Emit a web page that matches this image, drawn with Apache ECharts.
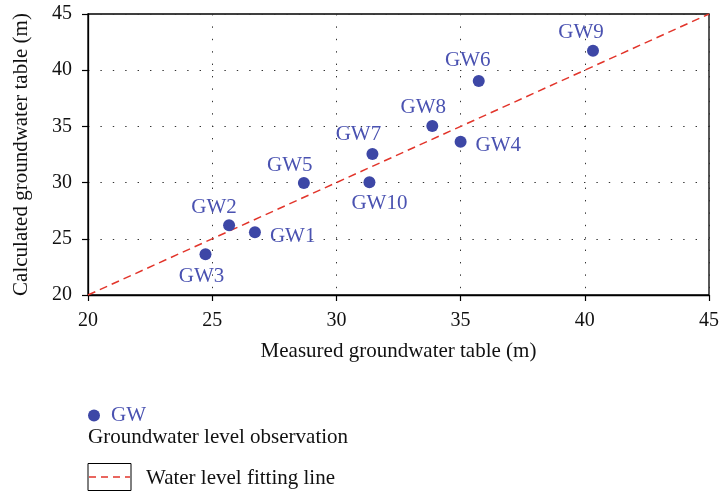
<!DOCTYPE html>
<html>
<head>
<meta charset="utf-8">
<script src="https://cdn.jsdelivr.net/npm/echarts@6/dist/echarts.min.js"></script>
<style>
  html, body { margin: 0; padding: 0; background: #fff; }
  #chart { width: 722px; height: 492px; }
</style>
</head>
<body>
<div id="chart"></div>
<script>
// Observation wells: measured vs. calculated groundwater table (m)
const wellNames = ['GW1', 'GW2', 'GW3', 'GW4', 'GW5', 'GW6', 'GW7', 'GW8', 'GW9', 'GW10'];
const measured = [26.72, 25.68, 24.73, 35.0, 28.69, 35.73, 31.45, 33.86, 40.33, 31.33];
const calculated = [25.58, 26.2, 23.62, 33.64, 29.96, 39.04, 32.54, 35.04, 41.73, 30.03];

// 1:1 fitting line end points
const fitX = [20, 45];
const fitY = [20, 45];

const axisTicks = [20, 25, 30, 35, 40, 45];

// Label placement around each marker: [dx, dy] in px from the marker centre, and text alignment
const labelShift = [
  [15, 4, 'left'], [-15, -18, 'center'], [-4, 22, 'center'], [15, 4, 'left'],
  [-14, -18, 'center'], [-11, -21, 'center'], [-14, -20, 'center'], [-9, -18, 'center'],
  [-12, -18, 'center'], [10, 21, 'center']
];

const serif = '"Liberation Serif", "DejaVu Serif", serif';
const blue = '#3d47a6';
const labelBlue = '#4a52b1';
const red = '#e2352b';
const fs = 21;

const pointData = wellNames.map((n, i) => ({
  name: n,
  value: [measured[i], calculated[i]],
  label: {
    position: ['50%', '50%'],
    offset: [labelShift[i][0], labelShift[i][1]],
    align: labelShift[i][2],
    verticalAlign: 'middle'
  }
}));

const chart = echarts.init(document.getElementById('chart'), null, { renderer: 'canvas' });

const axisCommon = {
  type: 'value',
  min: axisTicks[0],
  max: axisTicks[axisTicks.length - 1],
  interval: 5,
  axisLine: { show: true, lineStyle: { color: '#000', width: 1.3 } },
  axisTick: { show: true, inside: false, length: 6, lineStyle: { color: '#000', width: 1.2 } },
  axisLabel: { color: '#111', fontFamily: serif, fontSize: 20 },
  splitLine: { show: true, lineStyle: { color: '#333', width: 1, type: [1.4, 11] } },
  nameLocation: 'middle',
  nameTextStyle: { color: '#111', fontFamily: serif, fontSize: fs }
};

chart.setOption({
  animation: false,
  backgroundColor: '#fff',
  grid: {
    left: 88, right: 9, top: 14, bottom: 197,
    show: true, borderColor: '#000', borderWidth: 1.3, backgroundColor: 'transparent'
  },
  xAxis: Object.assign({}, axisCommon, {
    name: 'Measured groundwater table (m)',
    nameGap: 46,
    axisLabel: Object.assign({}, axisCommon.axisLabel, { margin: 16 })
  }),
  yAxis: Object.assign({}, axisCommon, {
    name: 'Calculated groundwater table (m)',
    nameGap: 56,
    axisLabel: Object.assign({}, axisCommon.axisLabel, { margin: 16 })
  }),
  series: [
    {
      name: 'Water level fitting line',
      type: 'line',
      data: fitX.map((x, i) => [x, fitY[i]]),
      symbol: 'none',
      lineStyle: { color: red, width: 1.5, type: [8, 5] },
      z: 2
    },
    {
      name: 'GW',
      type: 'scatter',
      data: pointData,
      symbolSize: 12,
      itemStyle: { color: blue, opacity: 1 },
      label: {
        show: true,
        formatter: '{b}',
        color: labelBlue,
        fontFamily: serif,
        fontSize: fs
      },
      z: 3
    }
  ],
  graphic: [
    { type: 'circle', shape: { cx: 94, cy: 415.5, r: 6 }, style: { fill: blue } },
    {
      type: 'text', x: 111, y: 415,
      style: { text: 'GW', fill: labelBlue, font: fs + 'px ' + serif, verticalAlign: 'middle' }
    },
    {
      type: 'text', x: 88, y: 437,
      style: { text: 'Groundwater level observation', fill: '#111', font: fs + 'px ' + serif, verticalAlign: 'middle' }
    },
    {
      type: 'rect', shape: { x: 88, y: 463.5, width: 43, height: 27 },
      style: { fill: 'none', stroke: '#000', lineWidth: 1 }
    },
    {
      type: 'line', shape: { x1: 89, y1: 477, x2: 130, y2: 477 },
      style: { stroke: red, lineWidth: 1.3, lineDash: [7, 5] }
    },
    {
      type: 'text', x: 146, y: 478,
      style: { text: 'Water level fitting line', fill: '#111', font: fs + 'px ' + serif, verticalAlign: 'middle' }
    }
  ]
});
</script>
</body>
</html>
